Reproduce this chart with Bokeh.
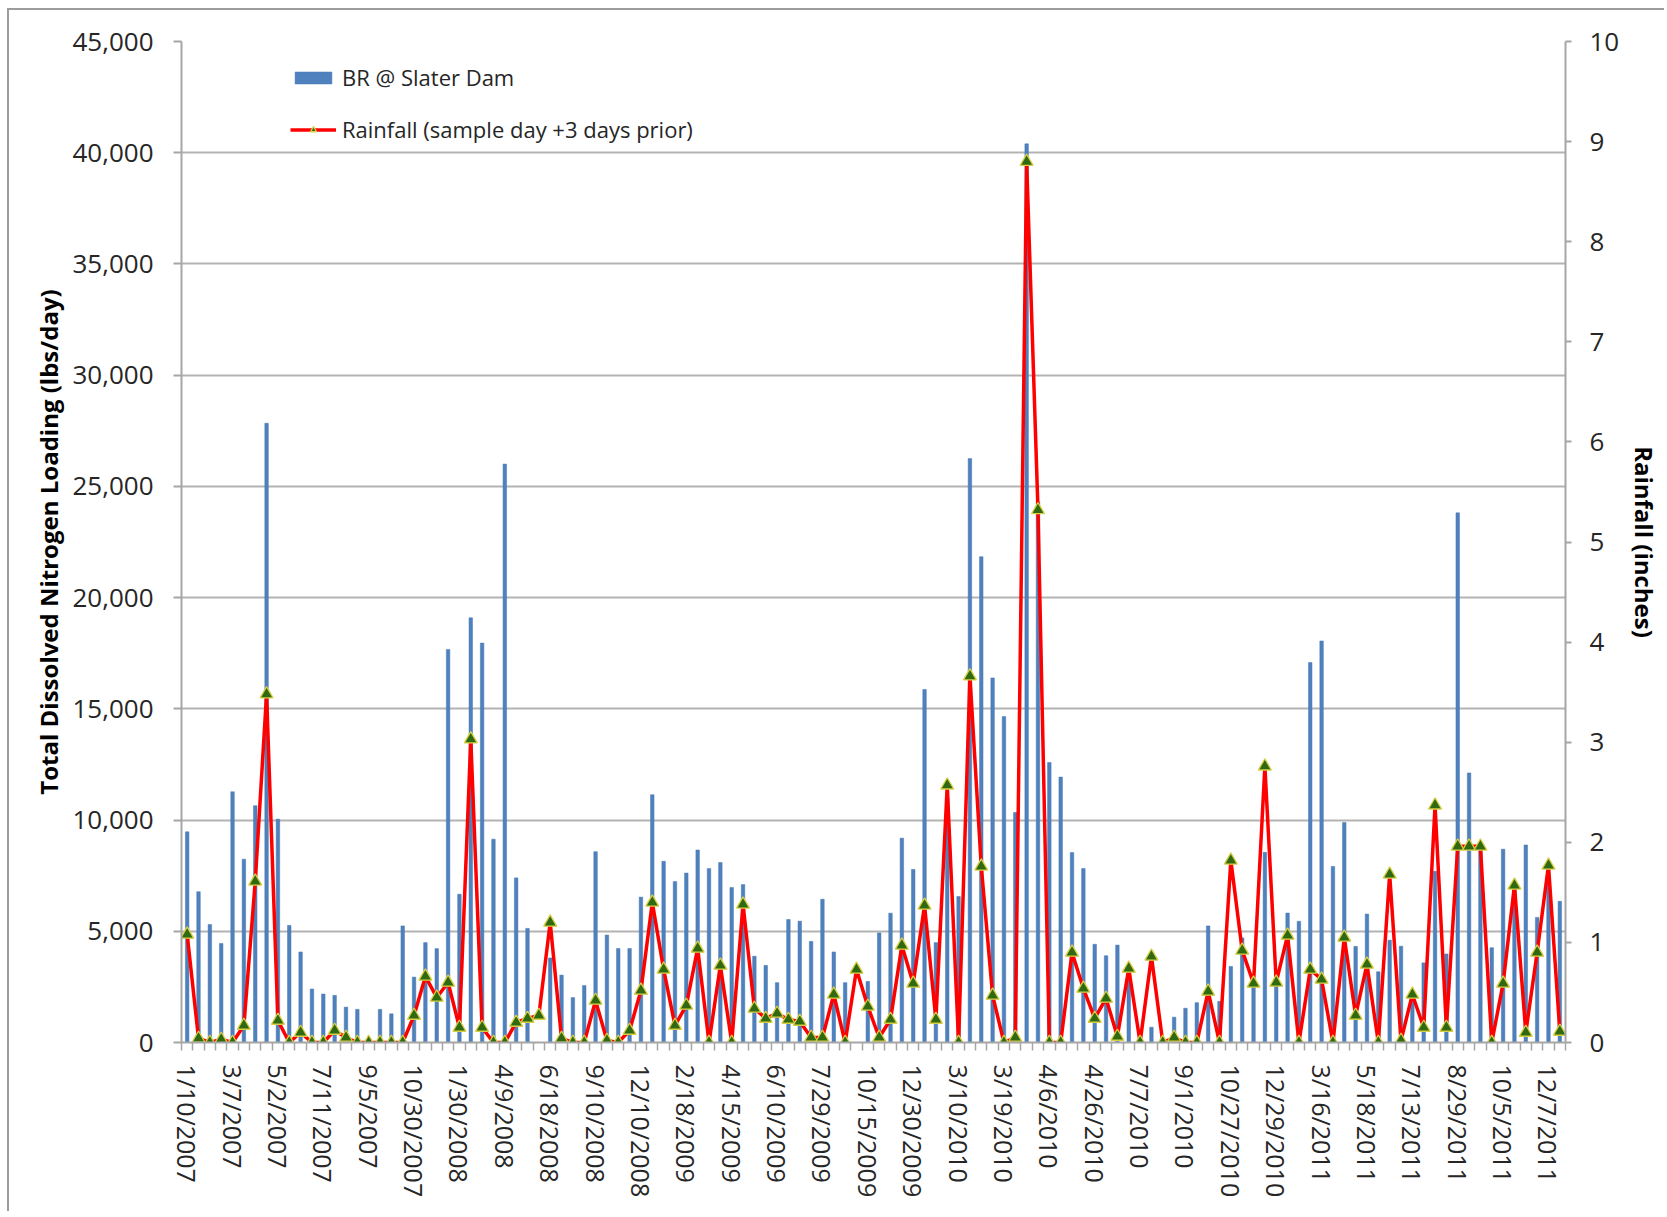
from bokeh.plotting import figure
from bokeh.layouts import column
from bokeh.models import (Range1d, LinearAxis, FixedTicker, NumeralTickFormatter,
                          Legend, LegendItem, ColumnDataSource)
from bokeh.embed import file_html
from bokeh.resources import INLINE

# ---- data ----
tick_dates = ["1/10/2007", "3/7/2007", "5/2/2007", "7/11/2007", "9/5/2007", "10/30/2007",
              "1/30/2008", "4/9/2008", "6/18/2008", "9/10/2008", "12/10/2008", "2/18/2009",
              "4/15/2009", "6/10/2009", "7/29/2009", "10/15/2009", "12/30/2009", "3/10/2010",
              "3/19/2010", "4/6/2010", "4/26/2010", "7/7/2010", "9/1/2010", "10/27/2010",
              "12/29/2010", "3/16/2011", "5/18/2011", "7/13/2011", "8/29/2011", "10/5/2011",
              "12/7/2011"]

loading = [9470, 6780, 5300, 4450, 11270, 8240, 10645, 27840, 10040, 5265,
           4070, 2405, 2180, 2120, 1590, 1490, 0, 1490, 1290, 5240,
           2940, 4490, 4220, 17670, 6670, 19090, 17955, 9140, 26005, 7400,
           5130, 0, 3800, 3030, 2020, 2560, 8580, 4830, 4225, 4225,
           6535, 11140, 8145, 7235, 7615, 8655, 7820, 8090, 6970, 7100,
           3880, 3465, 2690, 5530, 5455, 4545, 6440, 4070, 2690, 0,
           2745, 4925, 5815, 9185, 7780, 15870, 4490, 11000, 6560, 26250,
           21840, 16390, 14650, 10340, 40400, 24300, 12590, 11930, 8540, 7820,
           4415, 3900, 4380, 3300, 0, 690, 0, 1140, 1540, 1790,
           5240, 1850, 3420, 4700, 2800, 8550, 3100, 5820, 5450, 17080,
           18050, 7915, 9890, 4320, 5775, 3180, 4600, 4330, 2300, 3580,
           7700, 3980, 23810, 12120, 8700, 4260, 8690, 7100, 8880, 5625,
           7500, 6345]

rainfall = [1.08, 0.04, 0.0, 0.03, 0.0, 0.17, 1.61, 3.48, 0.22, 0.0,
            0.10, 0.0, 0.0, 0.12, 0.05, 0.0, 0.0, 0.0, 0.0, 0.0,
            0.27, 0.66, 0.45, 0.60, 0.15, 3.03, 0.15, 0.0, 0.0, 0.20,
            0.24, 0.27, 1.20, 0.04, 0.0, 0.0, 0.42, 0.02, 0.0, 0.12,
            0.52, 1.40, 0.73, 0.17, 0.37, 0.94, 0.0, 0.77, 0.0, 1.38,
            0.34, 0.24, 0.29, 0.23, 0.21, 0.05, 0.05, 0.48, 0.0, 0.73,
            0.36, 0.05, 0.23, 0.97, 0.59, 1.37, 0.23, 2.57, 0.0, 3.66,
            1.76, 0.47, 0.0, 0.05, 8.80, 5.32, 0.0, 0.0, 0.90, 0.54,
            0.24, 0.44, 0.06, 0.74, 0.0, 0.86, 0.0, 0.05, 0.0, 0.0,
            0.51, 0.0, 1.82, 0.92, 0.59, 2.76, 0.60, 1.07, 0.0, 0.73,
            0.63, 0.0, 1.05, 0.27, 0.78, 0.0, 1.68, 0.02, 0.48, 0.15,
            2.37, 0.15, 1.96, 1.96, 1.96, 0.0, 0.59, 1.57, 0.10, 0.90,
            1.77, 0.11]

left_ticks = list(range(0, 45001, 5000))
right_ticks = list(range(0, 11))
label_every = 4

n = len(loading)
src = ColumnDataSource(dict(x=list(range(n)), load=loading, rain=rainfall))

FONT = "Open Sans"
TXT = "#262626"

p = figure(width=1655, height=1201, output_backend="svg", toolbar_location=None,
           x_range=Range1d(-0.5, n - 0.5), y_range=Range1d(0, 45000),
           min_border_left=172, min_border_right=98, min_border_top=31,
           min_border_bottom=169)
p.extra_y_ranges = {"rain": Range1d(0, 10)}
p.outline_line_color = None
p.background_fill_color = "white"
p.border_fill_color = "white"

bars = p.vbar(x="x", top="load", width=0.31, source=src,
              fill_color="#4f81bd", line_color="#4779b4", line_width=0.5)
ln = p.line(x="x", y="rain", source=src, y_range_name="rain",
            line_color="#ff0000", line_width=3.5)
mk = p.scatter(x="x", y="rain", source=src, y_range_name="rain", marker="triangle",
               size=13, fill_color="#2f6a12", line_color="#d9cf45", line_width=1.3)

# x axis
xa = p.xaxis[0]
major = [label_every * i for i in range(len(tick_dates))]
xa.ticker = FixedTicker(ticks=major, minor_ticks=[k - 0.5 for k in range(n + 1)])
xa.major_label_overrides = {m: d for m, d in zip(major, tick_dates)}
xa.major_label_orientation = "vertical"
xa.major_tick_out = 0
xa.major_tick_in = 0
xa.minor_tick_out = 8
xa.minor_tick_in = 0
xa.minor_tick_line_color = "#a6a6a6"
xa.minor_tick_line_width = 1.5
xa.axis_line_color = "#a6a6a6"
xa.axis_line_width = 2
xa.major_label_standoff = 14
xa.major_label_text_font = FONT
xa.major_label_text_font_size = "25px"
xa.major_label_text_color = TXT

# left axis
ya = p.yaxis[0]
ya.ticker = FixedTicker(ticks=left_ticks, minor_ticks=[])
ya.formatter = NumeralTickFormatter(format="0,0")
ya.axis_label = "Total Dissolved Nitrogen Loading (lbs/day)"
ya.axis_label_text_font = FONT
ya.axis_label_text_font_style = "bold"
ya.axis_label_text_font_size = "24px"
ya.axis_label_text_color = "#000000"
ya.axis_label_standoff = 4
ya.major_label_text_font = FONT
ya.major_label_text_font_size = "26px"
ya.major_label_text_color = TXT
ya.major_label_standoff = 20
ya.major_tick_out = 8
ya.major_tick_in = 0
ya.major_tick_line_color = "#a6a6a6"
ya.major_tick_line_width = 2
ya.axis_line_color = "#a6a6a6"
ya.axis_line_width = 2

# right axis
ra = LinearAxis(y_range_name="rain", ticker=FixedTicker(ticks=right_ticks, minor_ticks=[]),
                axis_label="Rainfall (inches)")
ra.axis_label_text_font = FONT
ra.axis_label_text_font_style = "bold"
ra.axis_label_text_font_size = "24px"
ra.axis_label_text_color = "#000000"
ra.axis_label_standoff = 6
ra.major_label_text_font = FONT
ra.major_label_text_font_size = "26px"
ra.major_label_text_color = TXT
ra.major_label_standoff = 18
ra.major_tick_out = 6
ra.major_tick_in = 0
ra.major_tick_line_color = "#a6a6a6"
ra.major_tick_line_width = 2
ra.axis_line_color = "#a6a6a6"
ra.axis_line_width = 2
p.add_layout(ra, "right")

p.xgrid.visible = False
p.ygrid.ticker = FixedTicker(ticks=left_ticks, minor_ticks=[])
p.ygrid.grid_line_color = "#b3b3b3"
p.ygrid.grid_line_width = 2

legend = Legend(items=[LegendItem(label="BR @ Slater Dam", renderers=[bars]),
                       LegendItem(label="Rainfall (sample day +3 days prior)", renderers=[ln, mk])],
                location=(109, 898), orientation="vertical")
legend.border_line_color = None
legend.background_fill_alpha = 0
legend.padding = 0
legend.margin = 0
legend.spacing = 22
legend.glyph_width = 46
legend.glyph_height = 15
legend.label_height = 30
legend.label_standoff = 6
legend.label_text_font = FONT
legend.label_text_font_size = "22px"
legend.label_text_color = TXT
p.add_layout(legend)

page = column(p, margin=(8, 0, 0, 7),
              styles={"border-top": "2px solid #9c9c9c", "border-left": "2px solid #9c9c9c"})

open("out.html", "w").write(file_html(page, INLINE))
